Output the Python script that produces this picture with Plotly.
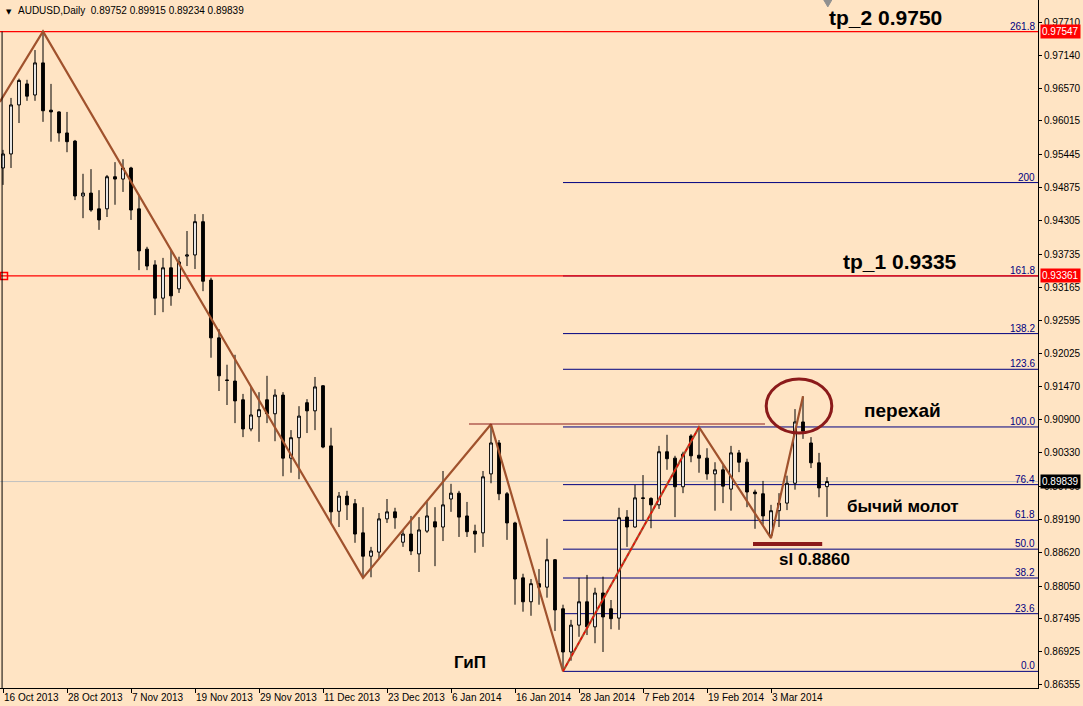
import plotly.graph_objects as go

# ---- data (AUDUSD daily) ----
opens = [0.9521, 0.9545, 0.9629, 0.9665, 0.9646, 0.9701, 0.9620, 0.9617, 0.9581, 0.9567,
         0.9473, 0.9478, 0.9451, 0.9451, 0.9506, 0.9502, 0.9521, 0.9451, 0.9382, 0.9355,
         0.9298, 0.9350, 0.9314, 0.9370, 0.9372, 0.9429, 0.9329, 0.9230, 0.9158, 0.9156,
         0.9124, 0.9074, 0.9095, 0.9124, 0.9100, 0.9132, 0.9024, 0.9059, 0.9119, 0.9105,
         0.9148, 0.9045, 0.8933, 0.8959, 0.8946, 0.8896, 0.8856, 0.8863, 0.8920, 0.8932,
         0.8880, 0.8894, 0.8860, 0.8899, 0.8915, 0.8906, 0.8954, 0.8964, 0.8925, 0.8899,
         0.8896, 0.8997, 0.9050, 0.8963, 0.8913, 0.8819, 0.8778, 0.8809, 0.8803, 0.8850,
         0.8766, 0.8692, 0.8738, 0.8778, 0.8735, 0.8793, 0.8766, 0.8750, 0.8923, 0.8906,
         0.8956, 0.8955, 0.8944, 0.9035, 0.9024, 0.8975, 0.9062, 0.9029, 0.9024, 0.8997,
         0.9004, 0.8971, 0.9033, 0.9017, 0.8966, 0.8963, 0.8892, 0.8934, 0.8947, 0.8981,
         0.9086, 0.9050, 0.9016, 0.89752]
highs = [0.9552, 0.9641, 0.9674, 0.9672, 0.9723, 0.9755, 0.9665, 0.9618, 0.9617, 0.9569,
         0.9511, 0.9519, 0.9483, 0.9509, 0.9531, 0.9536, 0.9523, 0.9475, 0.9386, 0.9363,
         0.9367, 0.9381, 0.9369, 0.9413, 0.9442, 0.9442, 0.9333, 0.9245, 0.9184, 0.9201,
         0.9134, 0.9146, 0.9137, 0.9165, 0.9142, 0.9137, 0.9072, 0.9113, 0.9125, 0.9163,
         0.9149, 0.9076, 0.8966, 0.8968, 0.8954, 0.8940, 0.8872, 0.8930, 0.8954, 0.8939,
         0.8901, 0.8925, 0.8923, 0.8949, 0.8940, 0.9002, 0.8980, 0.8968, 0.8949, 0.8910,
         0.9002, 0.9082, 0.9055, 0.8966, 0.8915, 0.8826, 0.8817, 0.8834, 0.8886, 0.8851,
         0.8773, 0.8747, 0.8819, 0.8824, 0.8802, 0.8821, 0.8781, 0.8939, 0.8935, 0.8978,
         0.8995, 0.8957, 0.9045, 0.9064, 0.9028, 0.9035, 0.9065, 0.9077, 0.9041, 0.9017,
         0.9012, 0.9045, 0.9038, 0.9023, 0.8970, 0.8985, 0.8944, 0.8964, 0.8994, 0.9108,
         0.9130, 0.9060, 0.9033, 0.89915]
lows = [0.9492, 0.9521, 0.9598, 0.9636, 0.9636, 0.9600, 0.9566, 0.9566, 0.9548, 0.9466,
        0.9435, 0.9446, 0.9415, 0.9437, 0.9458, 0.9480, 0.9432, 0.9346, 0.9346, 0.9269,
        0.9274, 0.9285, 0.9307, 0.9353, 0.9348, 0.9310, 0.9196, 0.9139, 0.9115, 0.9084,
        0.9060, 0.9070, 0.9052, 0.9084, 0.9053, 0.8993, 0.8999, 0.8988, 0.9067, 0.9072,
        0.9041, 0.8911, 0.8906, 0.8918, 0.8879, 0.8819, 0.8820, 0.8851, 0.8913, 0.8903,
        0.8872, 0.8858, 0.8829, 0.8896, 0.8839, 0.8882, 0.8932, 0.8889, 0.8889, 0.8862,
        0.8872, 0.8981, 0.8952, 0.8884, 0.8773, 0.8761, 0.8754, 0.8773, 0.8785, 0.8728,
        0.8659, 0.8677, 0.8718, 0.8721, 0.8707, 0.8692, 0.8731, 0.8730, 0.8872, 0.8905,
        0.8918, 0.8904, 0.8937, 0.9004, 0.8923, 0.8964, 0.9017, 0.8999, 0.8987, 0.8934,
        0.8947, 0.8934, 0.9000, 0.8940, 0.8903, 0.8910, 0.8887, 0.8906, 0.8935, 0.8970,
        0.9057, 0.9007, 0.8957, 0.89234]
closes = [0.9545, 0.9629, 0.9671, 0.9644, 0.9701, 0.9619, 0.9617, 0.9581, 0.9566, 0.9473,
          0.9478, 0.9449, 0.9432, 0.9506, 0.9502, 0.9521, 0.9449, 0.9379, 0.9353, 0.9298,
          0.9350, 0.9302, 0.9360, 0.9372, 0.9429, 0.9327, 0.9230, 0.9165, 0.9157, 0.9122,
          0.9074, 0.9098, 0.9107, 0.9100, 0.9132, 0.9024, 0.9059, 0.9096, 0.9105, 0.9146,
          0.9043, 0.8932, 0.8959, 0.8944, 0.8894, 0.8856, 0.8865, 0.8920, 0.8932, 0.8922,
          0.8894, 0.8865, 0.8901, 0.8925, 0.8906, 0.8944, 0.8964, 0.8923, 0.8898, 0.8894,
          0.8992, 0.9050, 0.8963, 0.8913, 0.8817, 0.8778, 0.8809, 0.8803, 0.8850, 0.8764,
          0.8692, 0.8738, 0.8778, 0.8735, 0.8793, 0.8752, 0.8749, 0.8922, 0.8906, 0.8956,
          0.8955, 0.8944, 0.9035, 0.9023, 0.8975, 0.9031, 0.9028, 0.9024, 0.8997, 0.9004,
          0.8976, 0.9033, 0.9017, 0.8966, 0.8963, 0.8925, 0.8934, 0.8947, 0.8981, 0.9086,
          0.9070, 0.9016, 0.8973, 0.89839]

tick_bars = [0, 8, 16, 24, 32, 40, 48, 56, 64, 72, 80, 88, 96]
tick_labels = ["16 Oct 2013", "28 Oct 2013", "7 Nov 2013", "19 Nov 2013", "29 Nov 2013",
               "11 Dec 2013", "23 Dec 2013", "6 Jan 2014", "16 Jan 2014", "28 Jan 2014",
               "7 Feb 2014", "19 Feb 2014", "3 Mar 2014"]
price_ticks = [0.97710, 0.97140, 0.96570, 0.96015, 0.95445, 0.94875, 0.94305, 0.93735,
               0.93165, 0.92595, 0.92025, 0.91470, 0.90900, 0.90330, 0.89760, 0.89190,
               0.88620, 0.88050, 0.87495, 0.86925, 0.86355]

zigzag_bars = [-0.4, 5, 45, 61, 70, 87, 96, 100]
zigzag_prices = [0.9634, 0.9755, 0.8819, 0.9082, 0.8659, 0.9077, 0.8887, 0.9130]
fibline_bars = [70, 87]
fibline_prices = [0.8659, 0.9077]

fib_start_bar = 70
fib_low = 0.86588
fib_high = 0.90774
fib_levels = [0.0, 23.6, 38.2, 50.0, 61.8, 76.4, 100.0, 123.6, 138.2, 161.8, 200, 261.8]
fib_level_labels = ["0.0", "23.6", "38.2", "50.0", "61.8", "76.4", "100.0", "123.6",
                    "138.2", "161.8", "200", "261.8"]

red_levels = [0.97547, 0.93361]
bid_price = 0.89839
resist_price = 0.90825
resist_bars = [58.25, 95.25]
sl_price = 0.8877
sl_bars = [93.75, 102.4]

header = "AUDUSD,Daily\u00a0\u00a00.89752\u00a00.89915\u00a00.89234\u00a00.89839"

# ---- layout constants ----
BG = "#FFE4C4"
X_RANGE = [-0.375, 129.375]
Y_RANGE = [0.86303, 0.98087]
NAVY = "#000080"
MAROON = "#8B1A1A"
BROWN = "#A0522D"

fig = go.Figure()

fig.add_trace(go.Candlestick(
    x=list(range(len(opens))), open=opens, high=highs, low=lows, close=closes,
    increasing=dict(fillcolor="white", line=dict(color="black", width=1)),
    decreasing=dict(fillcolor="black", line=dict(color="black", width=1)),
    whiskerwidth=0, showlegend=False, hoverinfo="skip",
))

fig.add_trace(go.Scatter(x=zigzag_bars, y=zigzag_prices, mode="lines",
                         line=dict(color=BROWN, width=2.2), showlegend=False, hoverinfo="skip"))
fig.add_trace(go.Scatter(x=fibline_bars, y=fibline_prices, mode="lines",
                         line=dict(color="#FF0000", width=1.3, dash="dot"),
                         showlegend=False, hoverinfo="skip"))
fig.add_trace(go.Scatter(x=[0.125], y=[red_levels[1]], mode="markers",
                         marker=dict(symbol="square-open", size=7, color="#FF0000",
                                     line=dict(width=1.5, color="#FF0000")),
                         showlegend=False, hoverinfo="skip"))

shapes = []
shapes.append(dict(type="line", xref="x", yref="y", x0=X_RANGE[0], x1=X_RANGE[1],
                   y0=bid_price, y1=bid_price, line=dict(color="#C0C0C0", width=1), layer="below"))
fib_prices = [fib_low + (fib_high - fib_low) * lv / 100.0 for lv in fib_levels]
for p in fib_prices:
    shapes.append(dict(type="line", xref="x", yref="y", x0=fib_start_bar, x1=X_RANGE[1],
                       y0=p, y1=p, line=dict(color=NAVY, width=1), layer="below"))
for p in red_levels:
    shapes.append(dict(type="line", xref="x", yref="y", x0=X_RANGE[0], x1=X_RANGE[1],
                       y0=p, y1=p, line=dict(color="#FF0000", width=1.2), layer="below"))
shapes.append(dict(type="line", xref="x", yref="y", x0=resist_bars[0], x1=resist_bars[1],
                   y0=resist_price, y1=resist_price, line=dict(color=MAROON, width=1.2)))
shapes.append(dict(type="line", xref="x", yref="y", x0=sl_bars[0], x1=sl_bars[1],
                   y0=sl_price, y1=sl_price, line=dict(color=MAROON, width=4)))
shapes.append(dict(type="circle", xref="x", yref="y", x0=95.4, x1=103.6,
                   y0=0.90671, y1=0.91596, line=dict(color=MAROON, width=3)))
shapes.append(dict(type="line", xref="paper", yref="y", x0=0.002, x1=0.002,
                   y0=Y_RANGE[0], y1=red_levels[0], line=dict(color="black", width=1)))
shapes.append(dict(type="path", xref="x", yref="paper",
                   path="M 102.6 1 L 103.6 1 L 103.1 0.99 Z",
                   fillcolor="#909090", line=dict(color="#909090", width=1)))

annotations = []
annotations.append(dict(xref="paper", yref="paper", x=0, y=1, xanchor="left", yanchor="top",
                        xshift=4, yshift=-6, text="\u25BC", showarrow=False,
                        font=dict(family="DejaVu Sans", size=7, color="black")))
annotations.append(dict(xref="paper", yref="paper", x=0, y=1, xanchor="left", yanchor="top",
                        xshift=16, yshift=-3, text=header, showarrow=False,
                        font=dict(family="Liberation Sans", size=10, color="black")))
for p, lab in zip(fib_prices, fib_level_labels):
    annotations.append(dict(xref="paper", yref="y", x=1, y=p, xanchor="right", yanchor="bottom",
                            xshift=-1, yshift=-2, text=lab, showarrow=False,
                            font=dict(family="Liberation Sans", size=10, color=NAVY)))
for p, bg in [(red_levels[0], "#FF0000"), (red_levels[1], "#FF0000"), (bid_price, "black")]:
    annotations.append(dict(xref="paper", yref="y", x=1, y=p, xanchor="left", yanchor="middle",
                            xshift=2, text=f"{p:.5f}", showarrow=False, bgcolor=bg,
                            borderpad=1, font=dict(family="Liberation Sans", size=10, color="white")))
for txt, xb, yp, sz in [("<b>tp_2 0.9750</b>", 110.25, 0.97779, 21),
                        ("<b>tp_1 0.9335</b>", 112.1, 0.93600, 21),
                        ("<b>перехай</b>", 112.4, 0.91048, 19),
                        ("<b>бычий молот</b>", 112.5, 0.89404, 17),
                        ("<b>sl 0.8860</b>", 101.4, 0.88496, 17),
                        ("<b>ГиП</b>", 58.4, 0.86732, 17)]:
    annotations.append(dict(xref="x", yref="y", x=xb, y=yp, text=txt, showarrow=False,
                            xanchor="center", yanchor="middle",
                            font=dict(family="Liberation Sans", size=sz, color="black")))

fig.update_layout(
    width=1083, height=706,
    margin=dict(l=0, r=45, t=0, b=18, autoexpand=False),
    paper_bgcolor=BG, plot_bgcolor=BG,
    boxgap=0.5,
    shapes=shapes, annotations=annotations,
    showlegend=False,
    xaxis=dict(range=X_RANGE, rangeslider=dict(visible=False), showgrid=False, zeroline=False,
               tickmode="array", tickvals=tick_bars, ticktext=tick_labels, tickangle=0,
               automargin=False,
               ticks="outside", ticklen=4, tickcolor="black", showline=True, linecolor="black",
               linewidth=1, ticklabelposition="outside right",
               tickfont=dict(family="Liberation Sans", size=10, color="black")),
    yaxis=dict(range=Y_RANGE, side="right", showgrid=False, zeroline=False, automargin=False,
               tickmode="array", tickvals=price_ticks, ticktext=[f"{v:.5f}" for v in price_ticks],
               ticks="outside", ticklen=3, tickcolor="black", showline=True, linecolor="black",
               linewidth=1, tickfont=dict(family="Liberation Sans", size=10, color="black")),
)

fig.write_html("out.html", config={"displayModeBar": False},
               post_script="document.body.style.margin='0px';document.body.style.overflow='hidden';")
